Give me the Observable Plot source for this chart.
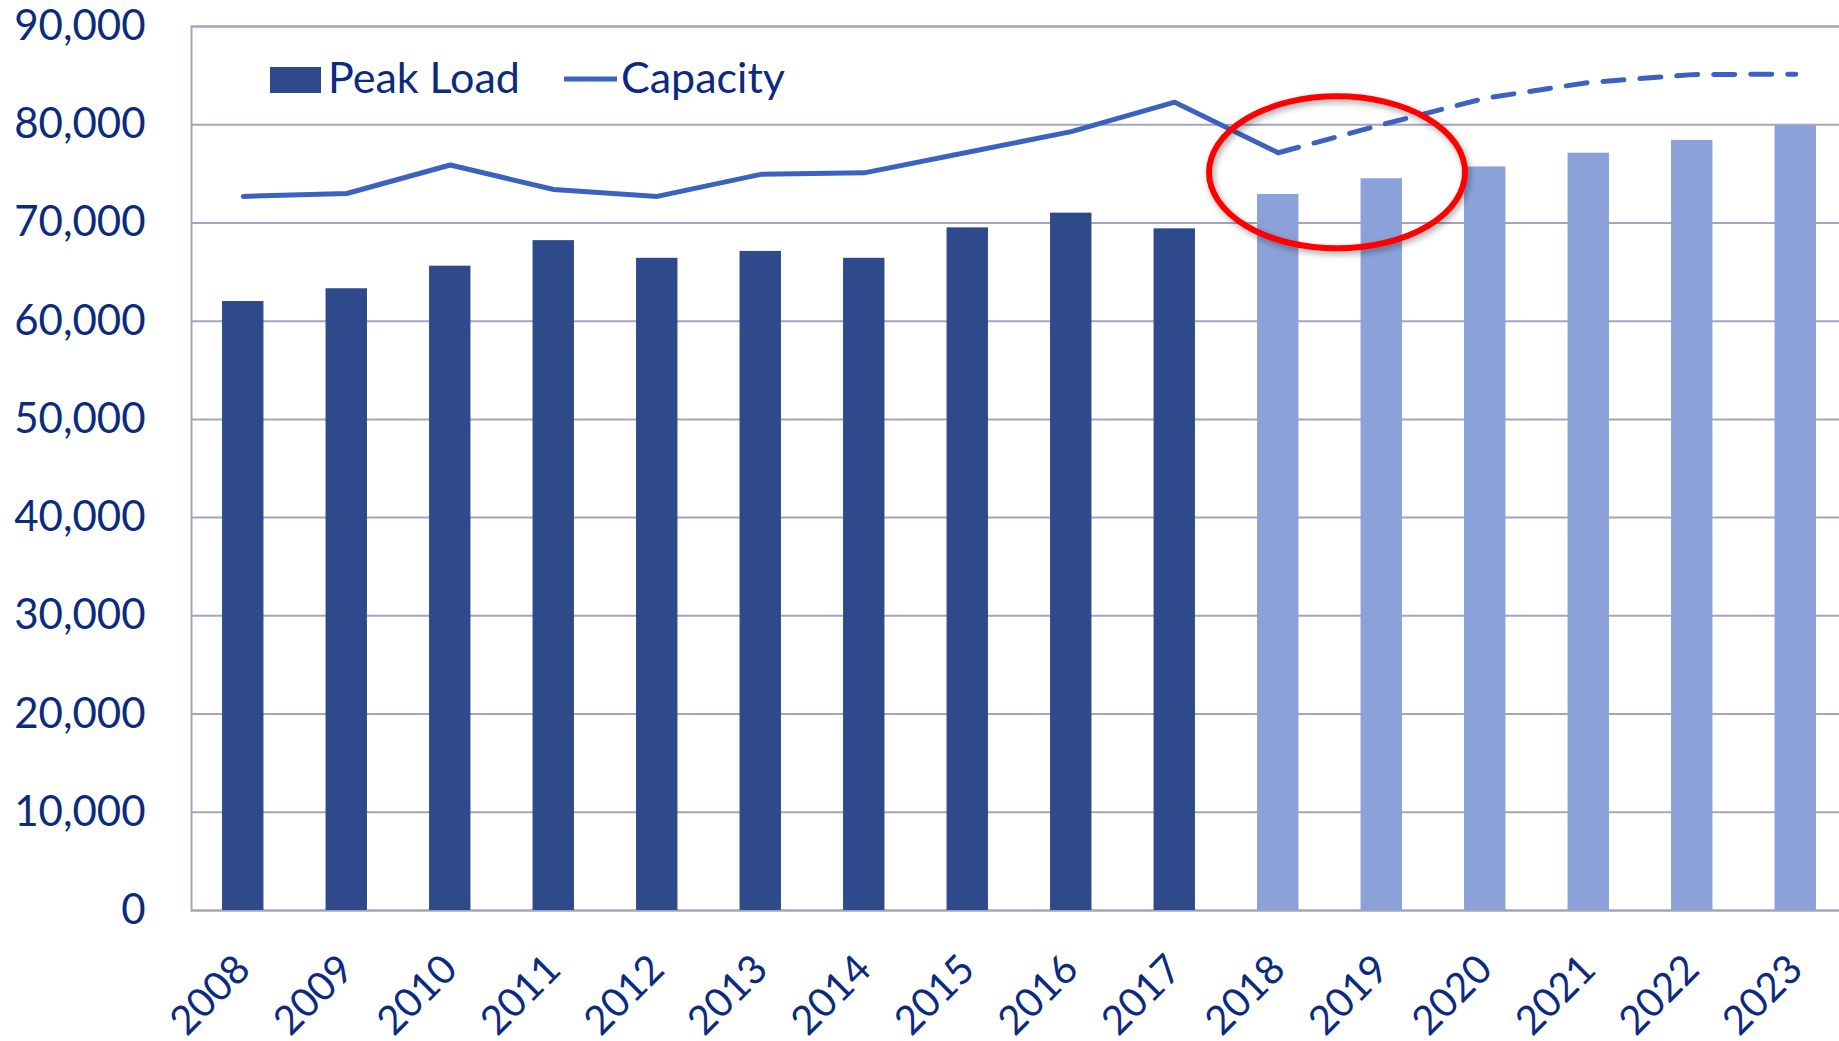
<!DOCTYPE html>
<html><head><meta charset="utf-8">
<script src="https://cdn.jsdelivr.net/npm/d3@7"></script>
<script src="https://cdn.jsdelivr.net/npm/@observablehq/plot@0.6"></script>
<style>
html,body{margin:0;padding:0;background:#fff;overflow:hidden;}
#chart{width:1839px;height:1041px;overflow:hidden;position:relative;}
#chart svg{max-width:none !important;width:1847px;height:1041px;}
</style></head><body><div id="chart"></div>
<script>
const years = ["2008","2009","2010","2011","2012","2013","2014","2015","2016","2017","2018","2019","2020","2021","2022","2023"];
const peakLoad = [62000, 63300, 65600, 68200, 66400, 67100, 66400, 69500, 71000, 69400, 72900, 74500, 75700, 77100, 78400, 79900];
const capacity = [72700, 73000, 75900, 73400, 72700, 74950, 75100, 77200, 79300, 82300, 77150, 80000, 82700, 84300, 85100, 85150];
const kinds = ["Actual","Actual","Actual","Actual","Actual","Actual","Actual","Actual","Actual","Actual","Forecast","Forecast","Forecast","Forecast","Forecast","Forecast"];
const yTicks = [0, 10000, 20000, 30000, 40000, 50000, 60000, 70000, 80000, 90000];
const legendLabels = ["Peak Load", "Capacity"];

const DARK = "#2F4A8B", LIGHT = "#8AA2D8", LINE = "#3B62C0", TEXT = "#0B2B7E", GRID = "#A2A4C0";

const data = years.map((year, i) => ({year, peak: peakLoad[i], capacity: capacity[i], kind: kinds[i]}));
const solid = data.filter(d => +d.year <= 2018);
const dashed = data.filter(d => +d.year >= 2018);

const plot = Plot.plot({
  width: 1847, height: 1041,
  marginLeft: 191, marginRight: 0, marginTop: 26, marginBottom: 131,
  style: {fontFamily: "Lato, 'Open Sans', sans-serif", fontSize: "42px", background: "white", overflow: "visible", maxWidth: "none"},
  x: {type: "band", domain: years, paddingInner: 0.6, paddingOuter: 0.3, round: false, label: null},
  y: {domain: [0, 90000], label: null},
  color: {domain: ["Actual", "Forecast"], range: [DARK, LIGHT]},
  marks: [
    Plot.ruleY(yTicks, {stroke: GRID, strokeWidth: 2}),
    Plot.frame({stroke: GRID, strokeWidth: 2}),
    Plot.barY(data, {x: "year", y: "peak", fill: "kind"}),
    Plot.lineY(solid, {x: "year", y: "capacity", stroke: LINE, strokeWidth: 5}),
    Plot.lineY(dashed, {x: "year", y: "capacity", stroke: LINE, strokeWidth: 5, strokeDasharray: "21,16"}),
    Plot.axisY(yTicks, {tickSize: 0, tickPadding: 46, tickFormat: d3.format(","), fill: TEXT, fontSize: 42, label: null}),
    Plot.axisX({tickSize: 0, tickPadding: 52, tickRotate: -45, fill: TEXT, fontSize: 40, label: null})
  ]
});

const svg = d3.select(plot);
const xs = plot.scale("x"), ys = plot.scale("y");
const bw = xs.bandwidth || 0;
const x18 = xs.apply("2018"), x19 = xs.apply("2019");
const cx = x18 + 0.573 * (x19 - x18) + bw / 2;
const cy = ys.apply(75100);

const defs = svg.append("defs");
const f = defs.append("filter").attr("id", "shadow").attr("x", "-20%").attr("y", "-20%").attr("width", "140%").attr("height", "140%");
f.append("feDropShadow").attr("dx", 2).attr("dy", 3).attr("stdDeviation", 3).attr("flood-color", "#000").attr("flood-opacity", 0.35);
svg.append("ellipse").attr("cx", cx).attr("cy", cy).attr("rx", 128).attr("ry", 76)
  .attr("fill", "none").attr("stroke", "#FF0000").attr("stroke-width", 6).attr("filter", "url(#shadow)");

// legend
const lg = svg.append("g").attr("font-family", "Lato, 'Open Sans', sans-serif").attr("font-size", 43)
  .attr("fill", TEXT).attr("text-anchor", "start");
lg.append("rect").attr("x", 270).attr("y", 67).attr("width", 51).attr("height", 26).attr("fill", DARK);
lg.append("text").attr("x", 328).attr("y", 93).text(legendLabels[0]);
lg.append("line").attr("x1", 564).attr("x2", 617).attr("y1", 79).attr("y2", 79).attr("stroke", LINE).attr("stroke-width", 5);
lg.append("text").attr("x", 621).attr("y", 93).text(legendLabels[1]);

document.getElementById("chart").appendChild(plot);
</script></body></html>
